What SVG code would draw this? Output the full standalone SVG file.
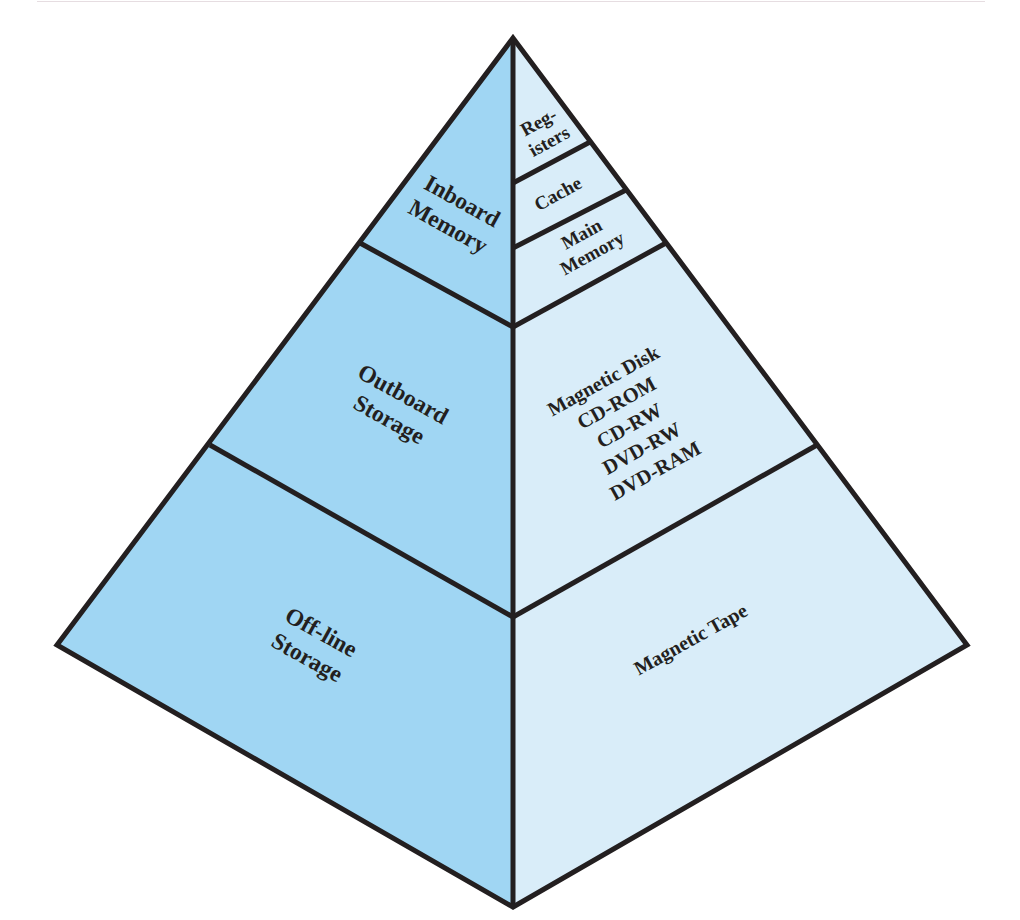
<svg xmlns="http://www.w3.org/2000/svg" width="1020" height="920" viewBox="0 0 1020 920">
<style>
.lbl{font-family:"Liberation Serif","Times New Roman",serif;font-weight:bold;fill:#231f20;text-anchor:middle}
.ln{stroke:#231f20;stroke-width:5;fill:none;stroke-linecap:butt}
</style>
<rect width="1020" height="920" fill="#ffffff"/>
<line x1="37" y1="1.5" x2="985" y2="1.5" stroke="#e6dde1" stroke-width="1.2"/>
<g id="faces">
<polygon points="513,38 57,645 513,907" fill="#a0d6f3"/>
<polygon points="513,38 967,645 513,907" fill="#d9edf9"/>
</g>
<g id="connectors">
<line class="ln" x1="360" y1="243" x2="513" y2="327"/>
<line class="ln" x1="210" y1="445" x2="513" y2="617"/>
<line class="ln" x1="513" y1="327" x2="666" y2="243"/>
<line class="ln" x1="513" y1="617" x2="817" y2="445"/>
<line class="ln" x1="513" y1="183" x2="590" y2="142"/>
<line class="ln" x1="513" y1="248" x2="626" y2="190"/>
<line class="ln" x1="513" y1="38" x2="513" y2="907"/>
<path class="ln" d="M513,38 L967,645 L513,907 L57,645 Z" stroke-linejoin="miter"/>
</g>
<g id="inboard" transform="translate(455,214) rotate(29)">
<text class="lbl" font-size="23.5" x="0" y="-7">Inboard</text>
<text class="lbl" font-size="23.5" x="0" y="22">Memory</text>
</g>
<g id="outboard" transform="translate(396,407) rotate(29)">
<text class="lbl" font-size="23.5" x="0" y="-7">Outboard</text>
<text class="lbl" font-size="23.5" x="0" y="22">Storage</text>
</g>
<g id="offline" transform="translate(314,645) rotate(29)">
<text class="lbl" font-size="23.5" x="0" y="-7">Off-line</text>
<text class="lbl" font-size="23.5" x="0" y="22">Storage</text>
</g>
<g id="registers" transform="translate(544,132) rotate(-29)">
<text class="lbl" font-size="19" x="0" y="-5">Reg-</text>
<text class="lbl" font-size="19" x="0" y="17">isters</text>
</g>
<g id="cache" transform="translate(558,194) rotate(-29)">
<text class="lbl" font-size="19" x="0" y="6">Cache</text>
</g>
<g id="main-memory" transform="translate(587,244) rotate(-29)">
<text class="lbl" font-size="19" x="0" y="-5">Main</text>
<text class="lbl" font-size="19" x="0" y="17">Memory</text>
</g>
<g id="disks" transform="translate(630,425) rotate(-29)">
<text class="lbl" font-size="20" x="-2" y="-45">Magnetic Disk</text>
<text class="lbl" font-size="20.5" x="-1" y="-19">CD-ROM</text>
<text class="lbl" font-size="20.5" x="-1" y="7">CD-RW</text>
<text class="lbl" font-size="20.5" x="-1" y="33">DVD-RW</text>
<text class="lbl" font-size="20.5" x="0" y="59">DVD-RAM</text>
</g>
<g id="tape" transform="translate(691,640) rotate(-29)">
<text class="lbl" font-size="20" x="0" y="6">Magnetic Tape</text>
</g>
</svg>
